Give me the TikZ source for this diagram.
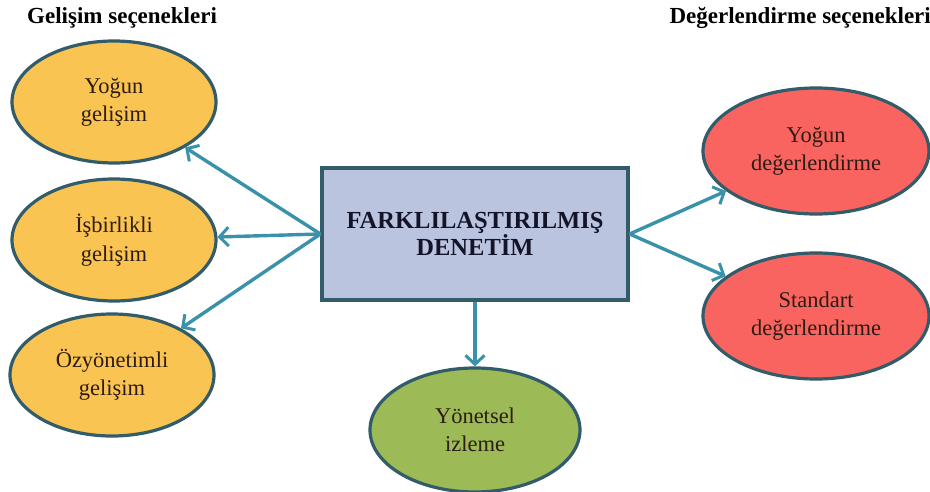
\documentclass[tikz,border=0pt]{standalone}
\usepackage{fontspec}
\setmainfont{Liberation Serif}
\usetikzlibrary{shapes.geometric,arrows.meta}
\definecolor{orangefill}{RGB}{250,196,82}
\definecolor{redfill}{RGB}{250,100,96}
\definecolor{greenfill}{RGB}{156,186,86}
\definecolor{boxfill}{RGB}{186,196,222}
\definecolor{edgecol}{RGB}{50,92,106}
\definecolor{arrowcol}{RGB}{58,146,170}
\definecolor{txtcol}{RGB}{45,28,20}
\definecolor{boxtxt}{RGB}{20,20,40}
\begin{document}
\begin{tikzpicture}[x=1pt,y=-1pt,
  oval/.style={ellipse, draw=edgecol, line width=3.2pt, minimum width=#1, inner sep=0pt,
    align=center, text=txtcol, font=\fontsize{22.5}{28.5}\selectfont},
  oval/.default=204pt,
  title/.style={font=\fontsize{23}{27}\selectfont\bfseries, text=black, inner sep=0pt},
  conn/.style={draw=arrowcol, line width=3.4pt, -{Straight Barb[length=9pt,width=19pt,line width=3pt]}}
]
\useasboundingbox (0,0) rectangle (930,492);
\fill[white] (0,0) rectangle (930,492);

\node[title, anchor=base west] (lt) at (27,24) {Gelişim seçenekleri};
\node[title, anchor=base east] (rt) at (931,24) {Değerlendirme seçenekleri};

\node[draw=edgecol, fill=boxfill, line width=3.2pt, minimum width=306pt, minimum height=132pt,
  inner sep=0pt, align=center, text=boxtxt, font=\fontsize{24.5}{27.5}\selectfont\bfseries]
  (box) at (475,234) {FARKLILAŞTIRILMIŞ\\DENETİM};

\node[oval, fill=orangefill, minimum height=122pt] (yg) at (114,102) {Yoğun\\gelişim};
\node[oval, fill=orangefill, minimum height=122pt] (ig) at (114,240) {İşbirlikli\\gelişim};
\node[oval, fill=orangefill, minimum height=122pt] (og) at (112,375) {Özyönetimli\\gelişim};

\node[oval=226pt, fill=redfill, minimum height=126pt] (yd) at (816,151) {Yoğun\\değerlendirme};
\node[oval=226pt, fill=redfill, minimum height=126pt] (sd) at (816,316) {Standart\\değerlendirme};

\node[oval=210pt, fill=greenfill, minimum height=124pt] (yi) at (475,430) {Yönetsel\\izleme};

\draw[conn] (box.west) -- (yg);
\draw[conn] (box.west) -- (ig);
\draw[conn] (box.west) -- (og);
\draw[conn] (box.east) -- (yd);
\draw[conn] (box.east) -- (sd);
\draw[conn] (box.south) -- (yi);
\end{tikzpicture}
\end{document}
